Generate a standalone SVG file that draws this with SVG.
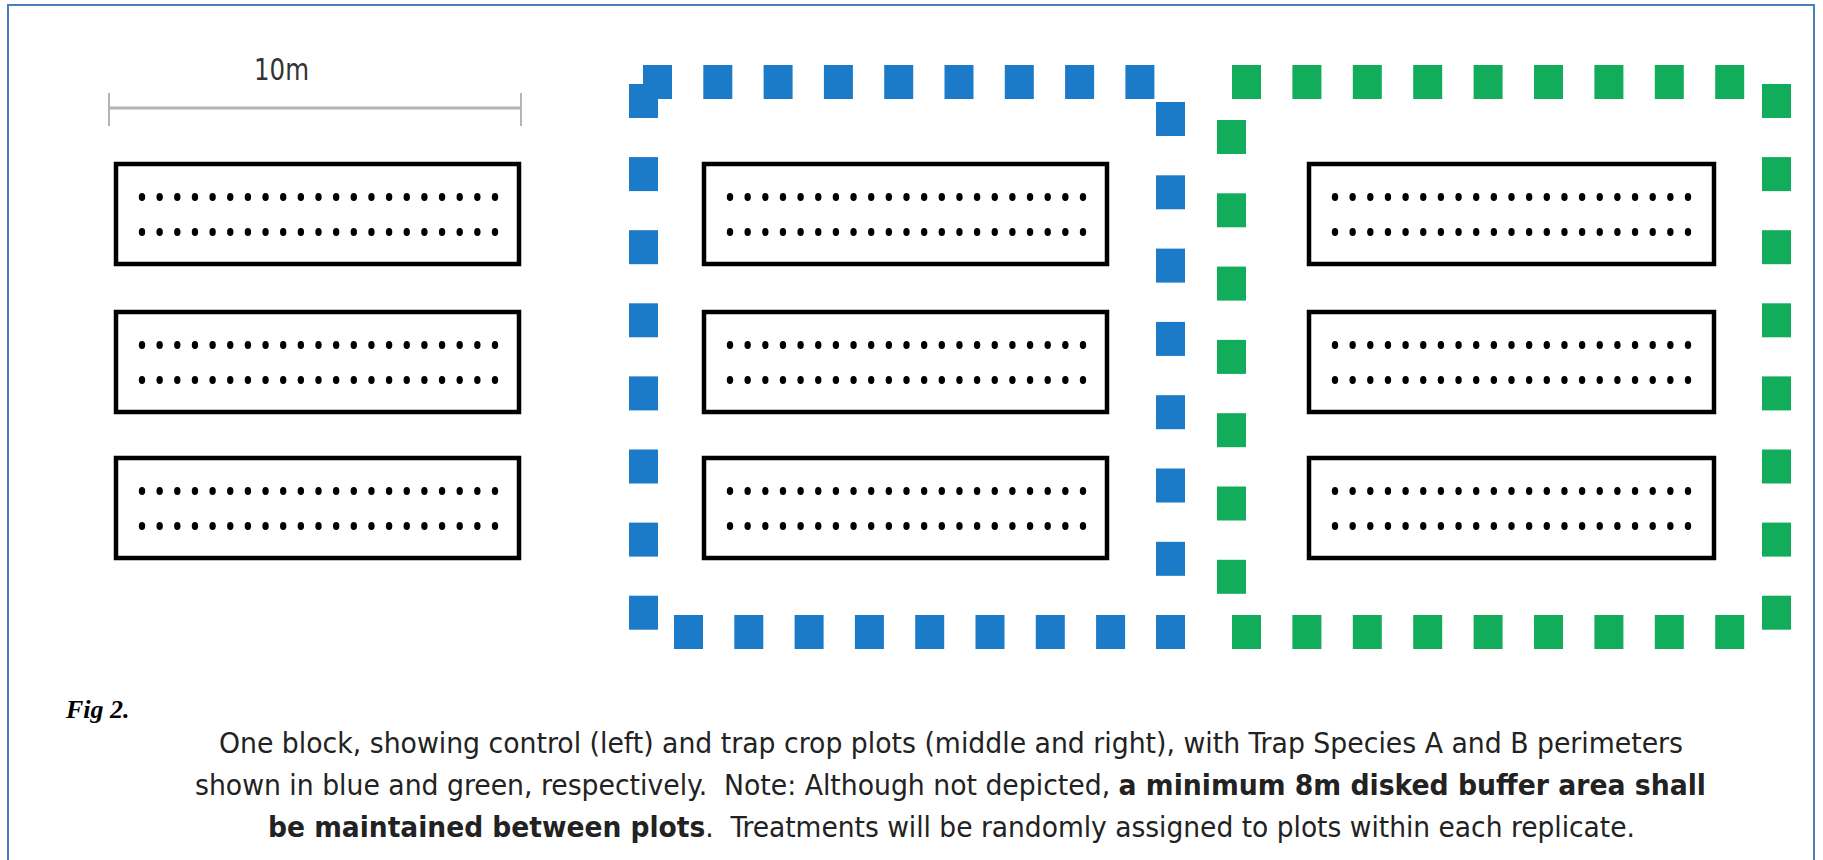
<svg xmlns="http://www.w3.org/2000/svg" width="1823" height="860" viewBox="0 0 1823 860">
<style>
.frame{fill:none;stroke:#4a7ebb;stroke-width:2}
.plot{fill:#fff;stroke:#000;stroke-width:4.5}
.dot{fill:#000}
.blue{fill:#1b7bc9}
.green{fill:#11ad5a}
.scale{stroke:#b4b4b4;fill:none}
.cap{font-family:"DejaVu Sans Condensed","DejaVu Sans",sans-serif;font-size:28px;fill:#222}
.b{font-weight:bold}
.fig{font-family:"Liberation Serif",serif;font-size:26px;font-weight:bold;font-style:italic;fill:#000}
</style>
<defs>
<g id="dotrow">
<ellipse class="dot" cx="28" cy="0" rx="3.2" ry="4"/><ellipse class="dot" cx="45.65" cy="0" rx="3.2" ry="4"/><ellipse class="dot" cx="63.3" cy="0" rx="3.2" ry="4"/><ellipse class="dot" cx="80.95" cy="0" rx="3.2" ry="4"/><ellipse class="dot" cx="98.6" cy="0" rx="3.2" ry="4"/><ellipse class="dot" cx="116.25" cy="0" rx="3.2" ry="4"/><ellipse class="dot" cx="133.9" cy="0" rx="3.2" ry="4"/><ellipse class="dot" cx="151.55" cy="0" rx="3.2" ry="4"/><ellipse class="dot" cx="169.2" cy="0" rx="3.2" ry="4"/><ellipse class="dot" cx="186.85" cy="0" rx="3.2" ry="4"/><ellipse class="dot" cx="204.5" cy="0" rx="3.2" ry="4"/><ellipse class="dot" cx="222.15" cy="0" rx="3.2" ry="4"/><ellipse class="dot" cx="239.8" cy="0" rx="3.2" ry="4"/><ellipse class="dot" cx="257.45" cy="0" rx="3.2" ry="4"/><ellipse class="dot" cx="275.1" cy="0" rx="3.2" ry="4"/><ellipse class="dot" cx="292.75" cy="0" rx="3.2" ry="4"/><ellipse class="dot" cx="310.4" cy="0" rx="3.2" ry="4"/><ellipse class="dot" cx="328.05" cy="0" rx="3.2" ry="4"/><ellipse class="dot" cx="345.7" cy="0" rx="3.2" ry="4"/><ellipse class="dot" cx="363.35" cy="0" rx="3.2" ry="4"/><ellipse class="dot" cx="381" cy="0" rx="3.2" ry="4"/>
</g>
<rect id="sq" width="29" height="34"/>
</defs>
<rect x="0" y="0" width="1823" height="860" fill="#fff"/>
<rect class="frame" x="8" y="5" width="1806" height="900"/>

<g id="scale-bar">
<line class="scale" x1="109" y1="108" x2="521" y2="108" stroke-width="3"/>
<line class="scale" x1="109" y1="93" x2="109" y2="126" stroke-width="2"/>
<line class="scale" x1="521" y1="93" x2="521" y2="126" stroke-width="2"/>
<text x="254" y="80" font-family="DejaVu Sans Condensed,DejaVu Sans,sans-serif" font-size="31" fill="#333" textLength="55" lengthAdjust="spacingAndGlyphs">10m</text>
</g>

<g id="plot-left-1"><rect class="plot" x="116" y="164" width="403" height="100"/><use href="#dotrow" x="114" y="197"/><use href="#dotrow" x="114" y="232"/></g>
<g id="plot-left-2"><rect class="plot" x="116" y="312" width="403" height="100"/><use href="#dotrow" x="114" y="345"/><use href="#dotrow" x="114" y="380"/></g>
<g id="plot-left-3"><rect class="plot" x="116" y="458" width="403" height="100"/><use href="#dotrow" x="114" y="491"/><use href="#dotrow" x="114" y="526"/></g>

<g id="plot-mid-1"><rect class="plot" x="704" y="164" width="403" height="100"/><use href="#dotrow" x="702" y="197"/><use href="#dotrow" x="702" y="232"/></g>
<g id="plot-mid-2"><rect class="plot" x="704" y="312" width="403" height="100"/><use href="#dotrow" x="702" y="345"/><use href="#dotrow" x="702" y="380"/></g>
<g id="plot-mid-3"><rect class="plot" x="704" y="458" width="403" height="100"/><use href="#dotrow" x="702" y="491"/><use href="#dotrow" x="702" y="526"/></g>

<g id="plot-right-1"><rect class="plot" x="1309" y="164" width="405" height="100"/><use href="#dotrow" x="1307" y="197"/><use href="#dotrow" x="1307" y="232"/></g>
<g id="plot-right-2"><rect class="plot" x="1309" y="312" width="405" height="100"/><use href="#dotrow" x="1307" y="345"/><use href="#dotrow" x="1307" y="380"/></g>
<g id="plot-right-3"><rect class="plot" x="1309" y="458" width="405" height="100"/><use href="#dotrow" x="1307" y="491"/><use href="#dotrow" x="1307" y="526"/></g>

<g id="perimeter-blue" class="blue">
<use href="#sq" x="643" y="65"/><use href="#sq" x="703.3" y="65"/><use href="#sq" x="763.6" y="65"/><use href="#sq" x="823.9" y="65"/><use href="#sq" x="884.2" y="65"/><use href="#sq" x="944.5" y="65"/><use href="#sq" x="1004.8" y="65"/><use href="#sq" x="1065.1" y="65"/><use href="#sq" x="1125.4" y="65"/>
<use href="#sq" x="629" y="84"/><use href="#sq" x="629" y="157.1"/><use href="#sq" x="629" y="230.2"/><use href="#sq" x="629" y="303.3"/><use href="#sq" x="629" y="376.4"/><use href="#sq" x="629" y="449.5"/><use href="#sq" x="629" y="522.6"/><use href="#sq" x="629" y="595.7"/>
<use href="#sq" x="1156" y="102"/><use href="#sq" x="1156" y="175.3"/><use href="#sq" x="1156" y="248.6"/><use href="#sq" x="1156" y="321.9"/><use href="#sq" x="1156" y="395.2"/><use href="#sq" x="1156" y="468.5"/><use href="#sq" x="1156" y="541.8"/><use href="#sq" x="1156" y="615"/>
<use href="#sq" x="674" y="615"/><use href="#sq" x="734.3" y="615"/><use href="#sq" x="794.6" y="615"/><use href="#sq" x="854.9" y="615"/><use href="#sq" x="915.2" y="615"/><use href="#sq" x="975.5" y="615"/><use href="#sq" x="1035.8" y="615"/><use href="#sq" x="1096.1" y="615"/>
</g>

<g id="perimeter-green" class="green">
<use href="#sq" x="1232" y="65"/><use href="#sq" x="1292.4" y="65"/><use href="#sq" x="1352.8" y="65"/><use href="#sq" x="1413.2" y="65"/><use href="#sq" x="1473.6" y="65"/><use href="#sq" x="1534" y="65"/><use href="#sq" x="1594.4" y="65"/><use href="#sq" x="1654.8" y="65"/><use href="#sq" x="1715.2" y="65"/>
<use href="#sq" x="1762" y="84"/><use href="#sq" x="1762" y="157.1"/><use href="#sq" x="1762" y="230.2"/><use href="#sq" x="1762" y="303.3"/><use href="#sq" x="1762" y="376.4"/><use href="#sq" x="1762" y="449.5"/><use href="#sq" x="1762" y="522.6"/><use href="#sq" x="1762" y="595.7"/>
<use href="#sq" x="1217" y="120"/><use href="#sq" x="1217" y="193.3"/><use href="#sq" x="1217" y="266.6"/><use href="#sq" x="1217" y="339.9"/><use href="#sq" x="1217" y="413.2"/><use href="#sq" x="1217" y="486.5"/><use href="#sq" x="1217" y="559.8"/>
<use href="#sq" x="1232" y="615"/><use href="#sq" x="1292.4" y="615"/><use href="#sq" x="1352.8" y="615"/><use href="#sq" x="1413.2" y="615"/><use href="#sq" x="1473.6" y="615"/><use href="#sq" x="1534" y="615"/><use href="#sq" x="1594.4" y="615"/><use href="#sq" x="1654.8" y="615"/><use href="#sq" x="1715.2" y="615"/>
</g>

<g id="caption">
<text class="fig" x="66" y="718">Fig 2.</text>
<text class="cap" x="219" y="753" textLength="1464" lengthAdjust="spacingAndGlyphs">One block, showing control (left) and trap crop plots (middle and right), with Trap Species A and B perimeters</text>
<text class="cap" x="195" y="795" textLength="1511" lengthAdjust="spacingAndGlyphs">shown in blue and green, respectively.&#160; Note: Although not depicted, <tspan class="b">a minimum 8m disked buffer area shall</tspan></text>
<text class="cap" x="268" y="837" textLength="1367" lengthAdjust="spacingAndGlyphs"><tspan class="b">be maintained between plots</tspan>.&#160; Treatments will be randomly assigned to plots within each replicate.</text>
</g>
</svg>
